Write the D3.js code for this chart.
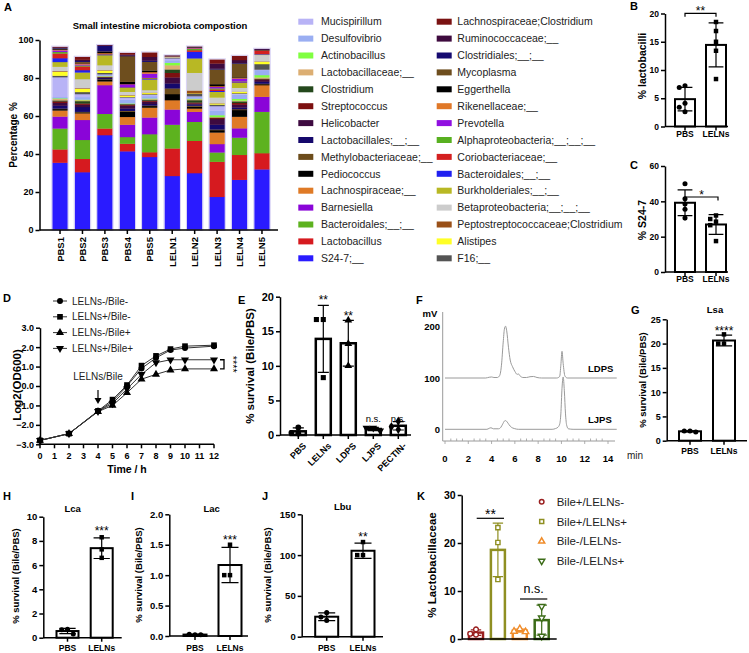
<!DOCTYPE html>
<html>
<head>
<meta charset="utf-8">
<script src="https://cdn.jsdelivr.net/npm/d3@7/dist/d3.min.js"></script>
<style>
html,body{margin:0;padding:0;background:#fff;}
svg{display:block;}
</style>
</head>
<body>
<svg id="fig" width="749" height="653"></svg>
<script>
// ================= DATA =================
// Panel A
const samples = ["PBS1","PBS2","PBS3","PBS4","PBS5","LELN1","LELN2","LELN3","LELN4","LELN5"];
// stack order, bottom -> top
const taxa = ["S24-7;__","Lactobacillus","Bacteroidales;__;__","Barnesiella","Lachnospiraceae;__","Pediococcus",
  "Methylobacteriaceae;__","Lactobacillales;__;__","Helicobacter","Streptococcus","Clostridium","Lactobacillaceae;__",
  "Actinobacillus","Desulfovibrio","Mucispirillum",
  "F16;__","Alistipes","Peptostreptococcaceae;Clostridium","Betaproteobacteria;__;__;__","Burkholderiales;__;__",
  "Bacteroidales;__;__","Coriobacteriaceae;__","Alphaproteobacteria;__;__;__","Prevotella","Rikenellaceae;__",
  "Eggerthella","Mycoplasma","Clostridiales;__;__","Ruminococcaceae;__","Lachnospiraceae;Clostridium"];
const taxaColors = ["#2a1bff","#d61a1f","#5db21f","#8a05d8","#df7a26","#000000",
  "#6c4c1b","#15086c","#3e0a40","#7c1010","#24481c","#dcae72",
  "#80ff40","#9aaef2","#b8b3f6",
  "#545454","#ffff26","#9a5018","#cccccc","#b8b824",
  "#2020f0","#d42020","#58b020","#9010e0","#e07828",
  "#000000","#6e4e1e","#160a70","#3e0a3e","#7a1212"];
const PBS1  = [35.5,7,11,6.3,3.2,0.7,0.3,1.5,1.5,0.8,0.5,0.8,0.3,0.6,10.5, 0.8,2.1,0.3,2.3,2.5,2,2.5,0.8,0.8,0.4,0.3,0.3,0.4,0.2,0.3];
const PBS2  = [30.5,7,10,10.5,3.5,0.5,0.3,2.5,1.2,0.7,1.2,0.5,0.3,1.3,1.6, 1.1,1.7,0.3,4.8,3.5,1.2,2,0.5,0.5,0.6,0.3,0.5,0.5,0.6,1.5];
const PBS3  = [50,3.5,7.7,15.1,2,1,0.2,0.5,0.3,0.2,0.2,0.3,0.1,0.5,0.4, 0.8,1.2,0.2,2.6,5.3,0.2,0.2,0.1,0.2,0.4,0.7,0.2,3.1,0.1,0.1];
const PBS4  = [41.5,4,3.5,6.5,4.1,2.7,0.5,1.2,1.5,0.4,0.4,0.2,0.2,2,1.1, 0.3,0.8,0.2,1.7,2.1,0.1,0.1,0.1,1.6,0.1,1.2,13.5,0.3,0.5,0.9];
const PBS5  = [38.5,2.5,9.5,8.8,5.2,0.8,0.3,0.8,1.2,0.6,0.5,0.3,0.3,1.2,0.8, 0.3,0.6,0.2,1.3,5.6,0.3,0.3,0.3,2.2,0.8,0.8,4.6,0.6,2,2.3];
const LELN1 = [28.5,14.5,12.5,8,4.9,3.2,3,2.6,3.2,2.4,1.8,2.2,1.3,1.3,1, 0.3,0.1,0.1,0.4,0.1,0.05,0.05,0.05,0.05,0.05,0.05,0.05,0.05,0.05,0.05];
const LELN2 = [30,17,10,5.3,1.7,1,0.5,0.7,0.5,0.5,1.2,0.5,0.3,0.8,0.5, 1.3,0.2,1.5,9.3,7.6,3.5,0.8,0.7,0.3,0.4,0.1,0.1,0.1,0.1,0.1];
const LELN3 = [17.5,18.5,4.9,4.4,6.1,1.2,0.4,2.5,3,0.5,0.3,0.3,0.9,2.5,2.3, 0.8,0.6,0.1,3,3,0.5,0.8,0.5,0.8,0.4,1,7.8,0.4,2.7,2.1];
const LELN4 = [26.5,13.1,9.1,4.9,6.1,3.5,0.5,0.8,1.5,1,0.8,0.4,0.9,2.2,0.5, 0.3,0.7,0.1,2,2.8,0.2,0.2,0.2,1.5,0.3,0.3,7.3,0.3,1.5,2.2];
const LELN5 = [32,8.5,21.8,7.9,6.1,0.5,0.3,1,0.9,0.4,0.4,0.6,1.2,2.6,0.3, 2.9,1.2,0.2,3.4,0.3,0.2,1.7,0.1,0.1,0.1,0.1,0.1,0.3,0.1,0.1];
const sampleValues = [PBS1,PBS2,PBS3,PBS4,PBS5,LELN1,LELN2,LELN3,LELN4,LELN5];

// Panels B, C
const grpCats = ["PBS","LELNs"];
const lactoPBS = [7.2,6.9,4.1,3.4,2.6];
const lactoLELN = [18.5,16.9,15.0,13.4,8.4];
const s24PBS = [50,41.5,38.5,35.5,30.5];
const s24LELN = [32,30,28.5,26.5,17.5];

// Panel D
const timeH = [0,2,4,5,6,7,8,9,10,12];
const growthNames = ["LELNs-/Bile-","LELNs+/Bile-","LELNs-/Bile+","LELNs+/Bile+"];
const odNegNeg = [-2.8,-2.45,-1.3,-0.8,0.0,0.9,1.45,1.85,1.95,2.05];
const odPosNeg = [-2.8,-2.45,-1.28,-0.7,0.05,1.05,1.55,1.9,2.05,2.1];
const odNegPos = [-2.8,-2.45,-1.32,-1.0,-0.35,0.35,0.6,0.82,0.88,0.88];
const odPosPos = [-2.8,-2.45,-1.3,-0.9,-0.15,0.6,1.2,1.35,1.35,1.35];

// Panel E
const survCats = ["PBS","LELNs","LDPS","LJPS","PECTIN-"];
const survPBS = [1.1,0.3,0.2];
const survLELN = [16.7,16.7,8.3];
const survLDPS = [16.6,13.2,10.0];
const survLJPS = [1.0,1.0,0.6];
const survPECTIN = [2.0,1.2,0.8];

// Panel F (chromatograms)
const ldpsT = [0,3.5,3.8,4.0,4.2,4.5,4.7,4.85,5.0,5.1,5.2,5.3,5.45,5.6,5.8,6.0,6.2,6.3,6.45,6.7,7.0,7.3,7.6,7.9,8.3,9.6,9.85,9.95,10.05,10.15,10.3,10.5,14.75];
const ldpsV = [100,100,101.5,102,101,101,105,125,170,195,201,192,160,135,122,113,107,108,104,101,101,102.5,103,101,100,100,103,125,152,128,104,100,100];
const ljpsT = [0,3.6,3.8,3.95,4.15,4.6,4.8,4.95,5.1,5.2,5.35,5.5,5.7,5.95,6.3,9.2,9.5,9.7,9.85,9.95,10.05,10.15,10.25,10.35,10.45,10.6,11,14.75];
const ljpsV = [0,0,2,3,1,1,4,10,16,17,14,9,4,1.5,0,0,1.5,4,10,30,80,102,75,30,8,1,0,0];

// Panels G-J
const lsaPBS = [2.0,2.0,1.8],   lsaLELN = [21.9,20.0,20.0];
const lcaPBS = [0.7,0.65,0.3],  lcaLELN = [8.3,7.3,6.6];
const lacPBS = [0.02,0.03,0.02],lacLELN = [1.5,1.0,1.0];
const lbuPBS = [29.5,24,20],    lbuLELN = [116,100,100];

// Panel K
const kCats = ["Bile+/LELNs-","Bile+/LELNs+","Bile-/LELNs-","Bile-/LELNs+"];
const kColors = ["#9a1f1f","#8f8f22","#f08c2a","#3c6c18"];
const kBpLm = [2.0,1.1,0.9];
const kBpLp = [23.2,20.1,12.4];
const kBmLm = [2.1,1.6,1.5];
const kBmLp = [6.8,4.4,0.6];

// ================= HELPERS =================
const FONT = "'Liberation Sans', Arial, Helvetica, sans-serif";
const svg = d3.select("#fig").attr("font-family", FONT);

function text(x, y, s, o = {}) {
  const t = svg.append("text").attr("x", x).attr("y", y).text(s)
    .attr("font-size", o.size || 10)
    .attr("font-weight", o.bold ? "bold" : "normal")
    .attr("text-anchor", o.anchor || "start")
    .attr("fill", o.fill || "#000");
  if (o.rot) t.attr("transform", `rotate(${o.rot},${x},${y})`);
  return t;
}
function yAxis(scale, x, ticks, o = {}) {
  const ax = d3.axisLeft(scale).tickValues(ticks).tickSize(o.tick ?? 4).tickSizeOuter(0).tickPadding(o.pad ?? 2);
  if (o.fmt) ax.tickFormat(o.fmt);
  const g = svg.append("g").attr("transform", `translate(${x},0)`).call(ax);
  g.attr("font-family", FONT);
  g.select(".domain").attr("stroke", o.color || "#000").attr("stroke-width", o.sw ?? 1.5);
  g.selectAll(".tick line").attr("stroke", o.color || "#000").attr("stroke-width", o.sw ?? 1.5);
  g.selectAll(".tick text").attr("font-size", o.size || 9).attr("font-weight", "bold").attr("fill", "#000");
  return g;
}
const symTypes = {circle: d3.symbolCircle, square: d3.symbolSquare, triangle: d3.symbolTriangle,
  triangleDown: d3.symbolTriangle, diamond: d3.symbolDiamond};
function symPath(type, area) { return d3.symbol().type(symTypes[type]).size(area)(); }
function symbol(g, type, area, x, y, fill, stroke, sw) {
  return g.append("path").attr("d", symPath(type, area))
    .attr("transform", `translate(${x},${y})` + (type === "triangleDown" ? " rotate(180)" : ""))
    .attr("fill", fill).attr("stroke", stroke || "none").attr("stroke-width", sw || 0);
}
function jitter(vals, yScale, size) {
  const placed = [];
  return vals.map(v => {
    const py = yScale(v);
    for (const k of [0, -1, 1, -2, 2]) {
      const px = k * size * 1.15;
      if (!placed.some(p => Math.abs(p.x - px) < size && Math.abs(p.y - py) < size)) {
        placed.push({x: px, y: py}); return px;
      }
    }
    return 0;
  });
}
function bracket(x1, x2, y, drop, color) {
  svg.append("path").attr("d", `M${x1},${y + drop}V${y}H${x2}V${y + drop}`)
    .attr("fill", "none").attr("stroke", color || "#000").attr("stroke-width", 1.2);
}
function barPanel(o) {
  const y = d3.scaleLinear().domain([0, o.max]).range([o.y0, o.y1]);
  const x = d3.scalePoint().domain(o.cats).range(o.centers);
  const g = svg.append("g");
  o.groups.forEach((vals, i) => {
    const col = o.colors ? o.colors[i] : "#000";
    const m = d3.mean(vals), sd = d3.deviation(vals);
    const cx = x(o.cats[i]);
    g.append("rect").attr("x", cx - o.barW / 2).attr("y", y(m)).attr("width", o.barW)
      .attr("height", Math.max(0, y(0) - y(m)))
      .attr("fill", "#fff").attr("stroke", col).attr("stroke-width", o.barSW || 2);
    const lo = y(Math.max(0, m - sd)), hi = y(m + sd), cw = o.barW * 0.37;
    g.append("path").attr("d", `M${cx},${lo}V${hi}M${cx - cw},${hi}H${cx + cw}M${cx - cw},${lo}H${cx + cw}`)
      .attr("stroke", col).attr("stroke-width", 1.2).attr("fill", "none");
    const offs = jitter(vals, y, o.ptSize || 5);
    vals.forEach((v, k) => {
      const shp = o.shapes[i];
      symbol(g, shp, o.ptArea || 20, cx + offs[k], y(v), o.open ? "#fff" : col, o.open ? col : null, o.open ? 1.4 : 0);
    });
  });
  // x axis
  svg.append("line").attr("x1", o.axisX).attr("x2", o.axisEnd).attr("y1", o.y0).attr("y2", o.y0)
    .attr("stroke", "#000").attr("stroke-width", 1.5);
  if (o.xLabels) {
    o.cats.forEach(c => {
      svg.append("line").attr("x1", x(c)).attr("x2", x(c)).attr("y1", o.y0).attr("y2", o.y0 + 4)
        .attr("stroke", "#000").attr("stroke-width", 1.5);
      if (!o.rotLabels) text(x(c), o.y0 + o.labelDy, c, {size: o.xSize || 8.5, bold: true, anchor: "middle"});
    });
  }
  yAxis(y, o.axisX, o.ticks, {size: o.tSize || 9, fmt: o.fmt});
  if (o.ylabel) text(o.ylabelX, o.ylabelY, o.ylabel, {size: o.ySize || 9.5, bold: true, anchor: "middle", rot: -90});
  if (o.title) text(o.titleX, o.titleY, o.title, {size: 9.5, bold: true, anchor: "middle"});
  return {x, y};
}

// ================= PANEL A =================
text(4, 11, "A", {size: 11, bold: true});
text(160, 28.5, "Small intestine microbiota compostion", {size: 9.5, bold: true, anchor: "middle"});
const yA = d3.scaleLinear().domain([0, 100]).range([230, 40]);
const xA = d3.scaleBand().domain(samples).range([48.8, 273.2]).paddingInner(0.31).paddingOuter(0.155);
const rowsA = samples.map((s, i) => ({sample: s, v: sampleValues[i]}));
const stackA = d3.stack().keys(d3.range(taxa.length)).value((d, k) => d.v[k])(rowsA);
svg.append("g").selectAll("g").data(stackA).join("g").attr("fill", d => taxaColors[d.key])
  .selectAll("rect").data(d => d).join("rect")
  .attr("x", d => xA(d.data.sample)).attr("width", xA.bandwidth())
  .attr("y", d => yA(d[1])).attr("height", d => Math.max(0, yA(d[0]) - yA(d[1])) + 0.3);
svg.append("g").selectAll("rect").data(rowsA).join("rect")
  .attr("x", d => xA(d.sample) - 0.5).attr("width", xA.bandwidth() + 1)
  .attr("y", d => yA(d3.sum(d.v)) - 0.5).attr("height", d => yA(0) - yA(d3.sum(d.v)) + 0.5)
  .attr("fill", "none").attr("stroke", "#d6d0f4").attr("stroke-width", 1);
svg.append("line").attr("x1", 39.5).attr("x2", 278).attr("y1", 230).attr("y2", 230).attr("stroke", "#000").attr("stroke-width", 1.5);
samples.forEach(s => {
  const cx = xA(s) + xA.bandwidth() / 2;
  svg.append("line").attr("x1", cx).attr("x2", cx).attr("y1", 230).attr("y2", 234).attr("stroke", "#000").attr("stroke-width", 1.5);
  text(cx + 3.5, 237, s, {size: 9.5, bold: true, anchor: "end", rot: -90});
});
yAxis(yA, 39.5, [0, 20, 40, 60, 80, 100], {size: 9});
text(17, 135, "Percentage %", {size: 10, bold: true, anchor: "middle", rot: -90});

// legend A
const legA = svg.append("g");
const col1 = d3.range(14, -1, -1), col2 = d3.range(29, 14, -1);
[[col1, 298.3, 321], [col2, 436.7, 457.3]].forEach(([idxs, sx, tx]) => {
  idxs.forEach((k, r) => {
    const cy = 21.7 + r * 16.9;
    legA.append("rect").attr("x", sx).attr("y", cy - 3).attr("width", 15).attr("height", 6).attr("fill", taxaColors[k]);
    legA.append("text").attr("x", tx).attr("y", cy + 3.7).attr("font-size", 10.5).attr("fill", "#222").text(taxa[k]);
  });
});

// ================= PANEL B =================
text(630, 10, "B", {size: 11, bold: true});
barPanel({cats: grpCats, groups: [lactoPBS, lactoLELN], shapes: ["circle", "square"], max: 20,
  y0: 126.5, y1: 13.5, centers: [685, 716], barW: 20, axisX: 665, axisEnd: 728, ticks: [0, 5, 10, 15, 20],
  xLabels: true, labelDy: 10, ylabel: "% lactobacilli", ylabelX: 645.5, ylabelY: 66, ySize: 10.5, tSize: 8.5});
bracket(685, 716, 13.3, 3.5);
text(700.5, 15, "**", {size: 12, anchor: "middle"});

// ================= PANEL C =================
text(630, 169, "C", {size: 11, bold: true});
barPanel({cats: grpCats, groups: [s24PBS, s24LELN], shapes: ["circle", "square"], max: 60,
  y0: 272, y1: 166, centers: [685, 716], barW: 20, axisX: 665, axisEnd: 728, ticks: [0, 20, 40, 60],
  xLabels: true, labelDy: 10, ylabel: "% S24-7", ylabelX: 645.5, ylabelY: 220, ySize: 10.5, tSize: 8.5});
bracket(685, 718, 197, 3.5);
text(701.5, 199, "*", {size: 12, anchor: "middle"});

// ================= PANEL D =================
text(3, 302, "D", {size: 11, bold: true});
const xD = d3.scaleLinear().domain([0, 12]).range([40, 214]);
const yD = d3.scaleLinear().domain([-3, 3]).range([444.3, 327.7]);
const growth = [odNegNeg, odPosNeg, odNegPos, odPosPos];
const growthShapes = ["circle", "square", "triangle", "triangleDown"];
const gD = svg.append("g");
const lineD = d3.line().x((d, i) => xD(timeH[i])).y(d => yD(d));
growth.forEach(s => gD.append("path").attr("d", lineD(s)).attr("fill", "none").attr("stroke", "#333").attr("stroke-width", 1));
growth.forEach((s, j) => s.forEach((v, i) => symbol(gD, growthShapes[j], j === 1 ? 32 : 28, xD(timeH[i]), yD(v), "#000")));
svg.append("line").attr("x1", 40).attr("x2", 214).attr("y1", 444.3).attr("y2", 444.3).attr("stroke", "#000").attr("stroke-width", 1.5);
d3.range(0, 13).forEach(t => {
  svg.append("line").attr("x1", xD(t)).attr("x2", xD(t)).attr("y1", 444.3).attr("y2", 448.3).attr("stroke", "#000").attr("stroke-width", 1.5);
  text(xD(t), 458.5, t, {size: 9, bold: true, anchor: "middle"});
});
yAxis(yD, 40, [-3, -2, -1, 0, 1, 2, 3], {size: 9});
text(127, 473, "Time / h", {size: 10.5, bold: true, anchor: "middle"});
text(21, 385, "Log2(OD600)", {size: 11.5, bold: true, anchor: "middle", rot: -90});
growthNames.forEach((n, j) => {
  const cy = 301 + j * 15.8;
  svg.append("line").attr("x1", 53).attr("x2", 67).attr("y1", cy).attr("y2", cy).attr("stroke", "#333").attr("stroke-width", 1);
  symbol(svg, growthShapes[j], j === 1 ? 32 : 28, 60, cy, "#000");
  text(72, cy + 3.6, n, {size: 10, fill: "#222"});
});
text(98, 380, "LELNs/Bile", {size: 10, anchor: "middle", fill: "#222"});
svg.append("line").attr("x1", 98).attr("x2", 98).attr("y1", 390).attr("y2", 400).attr("stroke", "#000").attr("stroke-width", 1.2);
svg.append("path").attr("d", "M94.5,398L98,404L101.5,398Z").attr("fill", "#000");
svg.append("path").attr("d", `M220,${yD(1.35)}H224V${yD(0.88)}H220`).attr("fill", "none").attr("stroke", "#000").attr("stroke-width", 1.3);
text(229, (yD(1.35) + yD(0.88)) / 2, "****", {size: 11, anchor: "middle", rot: 90});

// ================= PANEL E =================
text(238, 304, "E", {size: 11, bold: true});
const E = barPanel({cats: survCats, groups: [survPBS, survLELN, survLDPS, survLJPS, survPECTIN],
  shapes: ["circle", "square", "triangle", "triangleDown", "diamond"], max: 20, ptArea: 26, ptSize: 6,
  y0: 435, y1: 296.7, centers: [298.3, 398.3], barW: 15, barSW: 2.5, axisX: 280, axisEnd: 411, ticks: [0, 5, 10, 15, 20],
  xLabels: true, rotLabels: true, ylabel: "% survival (Bile/PBS)", ylabelX: 254, ylabelY: 366, ySize: 11.5, tSize: 11});
survCats.forEach(c => text(E.x(c) + 4, 442, c, {size: 9, bold: true, anchor: "end", rot: -45}).attr("dy", "0.7em"));
text(E.x("LELNs"), 304, "**", {size: 12, anchor: "middle"});
text(E.x("LDPS"), 319.5, "**", {size: 12, anchor: "middle"});
text(E.x("LJPS"), 421.5, "n.s.", {size: 9.5, anchor: "middle"});
text(E.x("PECTIN-"), 421.5, "n.s.", {size: 9.5, anchor: "middle"});

// ================= PANEL F =================
text(416, 304, "F", {size: 11, bold: true});
const xF = d3.scaleLinear().domain([0, 14]).range([445, 608]);
const yF = d3.scaleLinear().domain([0, 200]).range([429.3, 326.7]);
svg.append("line").attr("x1", 442.7).attr("x2", 442.7).attr("y1", 312).attr("y2", 441).attr("stroke", "#9a9a9a").attr("stroke-width", 1);
svg.append("line").attr("x1", 442.7).attr("x2", 615).attr("y1", 441).attr("y2", 441).attr("stroke", "#9a9a9a").attr("stroke-width", 1);
d3.range(0, 29).forEach(k => {
  const t = k / 2;
  svg.append("line").attr("x1", xF(t)).attr("x2", xF(t)).attr("y1", 441).attr("y2", t % 2 === 0 ? 444 : 438.5)
    .attr("stroke", "#9a9a9a").attr("stroke-width", 0.8);
});
[0, 2, 4, 6, 8, 10, 12, 14].forEach(t => text(xF(t), 461.5, t, {size: 9.5, bold: true, anchor: "middle"}));
[0, 100, 200].forEach(v => text(440, yF(v) + 3.5, v, {size: 9.5, bold: true, anchor: "end"}));
text(430, 316.5, "mV", {size: 9.5, bold: true, anchor: "middle"});
text(627, 459, "min", {size: 10, anchor: "start", fill: "#222"});
const lineF = (T) => d3.line().x((d, i) => xF(T[i])).y(d => yF(d)).curve(d3.curveMonotoneX);
svg.append("path").attr("d", lineF(ldpsT)(ldpsV)).attr("fill", "none").attr("stroke", "#9a9a9a").attr("stroke-width", 1);
svg.append("path").attr("d", lineF(ljpsT)(ljpsV)).attr("fill", "none").attr("stroke", "#9a9a9a").attr("stroke-width", 1);
text(588, 372, "LDPS", {size: 9.5, bold: true});
text(588, 423, "LJPS", {size: 9.5, bold: true});

// ================= PANEL G =================
text(631, 314, "G", {size: 11, bold: true});
barPanel({cats: grpCats, groups: [lsaPBS, lsaLELN], shapes: ["circle", "square"], max: 25,
  y0: 440.7, y1: 319.3, centers: [690, 724], barW: 22, axisX: 666.7, axisEnd: 747, ticks: [0, 5, 10, 15, 20, 25],
  xLabels: true, labelDy: 13, ylabel: "% survival (Bile/PBS)", ylabelX: 646, ylabelY: 380, ySize: 9.5,
  title: "Lsa", titleX: 715, titleY: 312.5});
text(724, 334.5, "****", {size: 12, anchor: "middle"});

// ================= PANEL H =================
text(3, 500, "H", {size: 11, bold: true});
barPanel({cats: grpCats, groups: [lcaPBS, lcaLELN], shapes: ["circle", "square"], max: 10,
  y0: 637.7, y1: 516.7, centers: [67.5, 101.7], barW: 22, axisX: 43.3, axisEnd: 121.7, ticks: [0, 2, 4, 6, 8, 10],
  xLabels: true, labelDy: 13.5, ylabel: "% survival (Bile/PBS)", ylabelX: 18.5, ylabelY: 576, ySize: 9.5, tSize: 9.5,
  title: "Lca", titleX: 72.7, titleY: 511.5});
text(101.7, 535, "***", {size: 12, anchor: "middle"});

// ================= PANEL I =================
text(131, 500, "I", {size: 11, bold: true});
barPanel({cats: grpCats, groups: [lacPBS, lacLELN], shapes: ["circle", "square"], max: 2,
  y0: 636, y1: 514.3, centers: [195, 230], barW: 23, axisX: 169.3, axisEnd: 248, ticks: [0, 0.5, 1, 1.5, 2],
  fmt: d3.format(".1f"), xLabels: true, labelDy: 15, ylabel: "% survival (Bile/PBS)", ylabelX: 141.5, ylabelY: 575, ySize: 9.5, tSize: 9.5,
  title: "Lac", titleX: 211.7, titleY: 511.5});
text(230, 544, "***", {size: 12, anchor: "middle"});

// ================= PANEL J =================
text(262, 500, "J", {size: 11, bold: true});
barPanel({cats: grpCats, groups: [lbuPBS, lbuLELN], shapes: ["circle", "square"], max: 150,
  y0: 636.7, y1: 514.3, centers: [326.7, 363], barW: 23, axisX: 301.7, axisEnd: 383, ticks: [0, 50, 100, 150],
  xLabels: true, labelDy: 14.5, ylabel: "% survival (Bile/PBS)", ylabelX: 271, ylabelY: 575, ySize: 9.5, tSize: 9.5,
  title: "Lbu", titleX: 342.7, titleY: 510});
text(363, 541, "**", {size: 12, anchor: "middle"});

// ================= PANEL K =================
text(417, 500, "K", {size: 11, bold: true});
barPanel({cats: kCats, groups: [kBpLm, kBpLp, kBmLm, kBmLp], colors: kColors, open: true,
  shapes: ["circle", "square", "triangle", "triangleDown"], max: 30, ptArea: 18, ptSize: 5, barSW: 2.5,
  y0: 639, y1: 495, centers: [476, 541.7], barW: 14, axisX: 461.7, axisEnd: 556.7, ticks: [0, 10, 20, 30],
  xLabels: false, ylabel: "% Lactobacillaceae", ylabelX: 436, ylabelY: 565, ySize: 11.5, tSize: 10.5});
bracket(476.7, 504, 518.3, 0);
text(490.5, 519, "**", {size: 14, anchor: "middle"});
bracket(520, 547.3, 599, 0);
text(533.7, 593, "n.s.", {size: 12.5, anchor: "middle"});
kCats.forEach((c, j) => {
  const cy = 501.7 + j * 19.8;
  symbol(svg, ["circle", "square", "triangle", "triangleDown"][j], 16, 541.7, cy, "#fff", kColors[j], 1.5);
  text(556.7, cy + 4, c, {size: 11.5, fill: "#222"});
});
</script>
</body>
</html>
